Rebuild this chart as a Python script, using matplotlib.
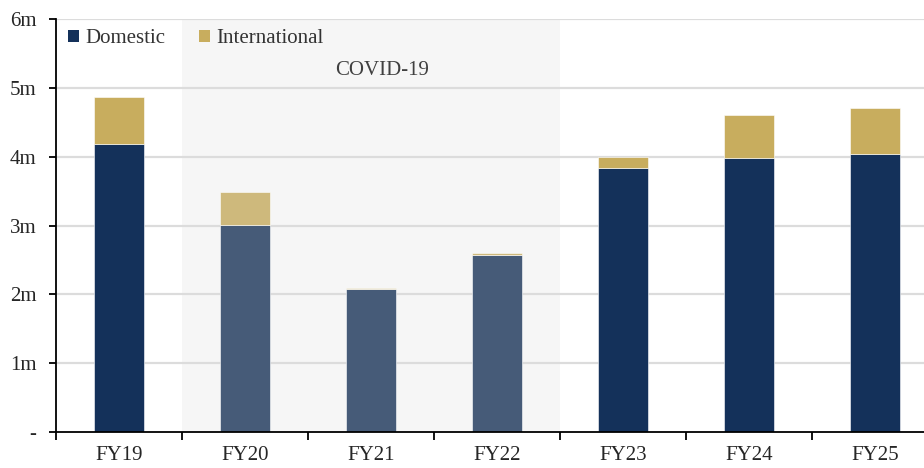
import matplotlib
matplotlib.use("Agg")
import matplotlib.pyplot as plt
from matplotlib.patches import Patch

plt.rcParams['font.family'] = ['Liberation Serif', 'DejaVu Serif']

years = ["FY19", "FY20", "FY21", "FY22", "FY23", "FY24", "FY25"]
domestic = [4.19, 3.01, 2.08, 2.57, 3.84, 3.98, 4.04]
international = [0.68, 0.48, 0.01, 0.03, 0.16, 0.63, 0.67]
covid_years = {"FY20", "FY21", "FY22"}
ytick_labels = ["-", "1m", "2m", "3m", "4m", "5m", "6m"]

dom_color = "#14315A"
int_color = "#C8AD5E"
dom_covid = "#465B78"
int_covid = "#CEB97C"
text_color = "#262626"

fig = plt.figure(figsize=(9.24, 4.68), dpi=100)
ax = fig.add_axes([56 / 924, 36 / 468, 882 / 924, 413 / 468])

x = list(range(len(years)))
dcols = [dom_covid if y in covid_years else dom_color for y in years]
icols = [int_covid if y in covid_years else int_color for y in years]

ax.axvspan(0.5, 3.5, color="#F6F6F6", zorder=0, lw=0)
for v in range(1, 7):
    ax.axhline(v, color="#DCDCDC", lw=1.6, zorder=1)

ax.bar(x, domestic, width=0.4, color=dcols, zorder=2,
       edgecolor="#FFFFFF", linewidth=0.4)
ax.bar(x, international, bottom=domestic, width=0.4, color=icols, zorder=2,
       edgecolor="#FFFFFF", linewidth=0.4)

ax.text(2.09, 5.25, "COVID-19", ha="center", va="center", fontsize=15,
        color="#404040")

ax.set_xlim(-0.5, 6.5)
ax.set_ylim(0, 6)
ax.set_yticks(range(7))
ax.set_yticklabels(ytick_labels)
ax.set_xticks(x)
ax.set_xticklabels(years)
ax.set_xticks([i + 0.5 for i in range(-1, 7)], minor=True)
ax.tick_params(axis="x", which="major", length=0, pad=10, labelsize=15,
               labelcolor=text_color)
ax.tick_params(axis="x", which="minor", length=6, width=1.3, color="black")
ax.tick_params(axis="y", length=5, width=1.3, pad=9, labelsize=15,
               labelcolor=text_color)

for s in ["top", "right"]:
    ax.spines[s].set_visible(False)
for s in ["left", "bottom"]:
    ax.spines[s].set_linewidth(1.3)
    ax.spines[s].set_zorder(3)

handles = [Patch(facecolor=dom_color, label="Domestic"),
           Patch(facecolor=int_color, label="International")]
ax.legend(handles=handles, loc="upper left", ncol=2, frameon=False,
          fontsize=15, handlelength=0.55, handleheight=0.55,
          handletextpad=0.3, columnspacing=1.6,
          bbox_to_anchor=(-0.008, 1.02), labelcolor="#333333")

fig.savefig("out.png", dpi=100)
